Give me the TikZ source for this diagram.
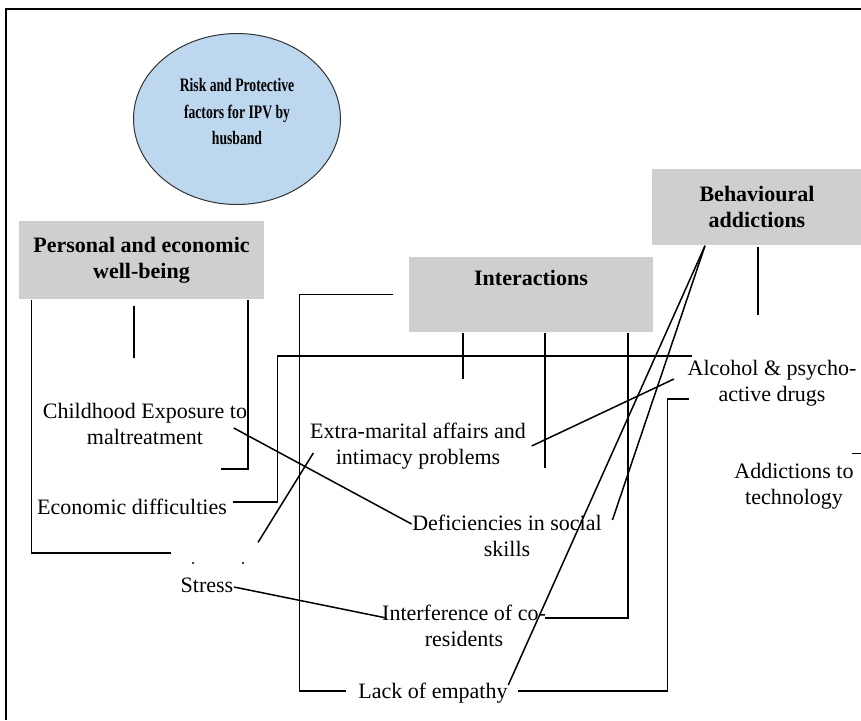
\documentclass[tikz,border=0pt]{standalone}
\usepackage{fontspec}
\setmainfont{Liberation Serif}
\newfontfamily\narrowfont[FakeStretch=0.72]{Liberation Serif}
\usetikzlibrary{shapes.geometric, positioning}
\definecolor{ellblue}{HTML}{BDD7EE}
\definecolor{hdgray}{HTML}{D0CECE}

\begin{document}
\begin{tikzpicture}[
        x=0.5pt, y=-0.5pt,
        line width=0.75pt,
        every node/.style={inner sep=0pt, align=center, font=\fontsize{11}{13}\selectfont},
        header/.style={fill=hdgray, font=\fontsize{11}{13}\selectfont\bfseries},
        title/.style={ellipse, draw=black!80, line width=0.5pt, fill=ellblue,
            font=\narrowfont\fontsize{9.5}{13.25}\selectfont\bfseries},
    ]
    \useasboundingbox (0,0) rectangle (861,720);
    \draw[line width=1pt] (6,720) -- (6,9) -- (861,9);

    \node[title, minimum width=103.5pt, minimum height=85.5pt] (title) at (237,119) {Risk and Protective\\factors for IPV by\\husband\\[-6pt]\mbox{}};

    \node[header, minimum width=122.5pt, minimum height=39pt] (pers) at (141.5,260) {Personal and economic\\well-being};
    \node[header, minimum width=122pt, minimum height=37.5pt] (inter) at (531,294.5) {Interactions\\[4pt]\mbox{}};
    \node[header, minimum width=105pt, minimum height=38pt] (behav) at (757,207) {Behavioural\\addictions};

    \node (child) at (145,424) {Childhood Exposure to\\maltreatment};
    \node (econ) at (132,507) {Economic difficulties};
    \node (stress) at (207,585) {Stress};
    \node (extra) at (418,446) {Extra-marital affairs and\\intimacy problems};
    \node (defic) at (507,536) {Deficiencies in social\\skills};
    \node (interf) at (464,626) {Interference of co-\\residents};
    \node (lack) at (433,693) {Lack of empathy};
    \node (alcohol) at (772,383) {Alcohol \& psycho-\\active drugs};
    \node (techn) at (794,486) {Addictions to\\technology};

    \fill (193,563) circle (0.6pt);
    \fill (243,563) circle (0.6pt);

    \draw ([xshift=-3.75pt, yshift=-3pt]pers.south) -- ++(0,52);
    \draw ([xshift=6.5pt]pers.south west) -- ++(0,253) -- ++(140,0);
    \draw ([xshift=-8.5pt]pers.south east) -- ++(0,169) -- ++(-27,0);

    \draw ([xshift=-7.5pt]inter.west) -- ++(-94,0) -- ++(0,396.5) -- ++(47,0);
    \draw ([shift={(2.5pt,2.5pt)}]econ.east) -- ++(45,0) -- ++(0,-146) -- ++(414,0);
    \draw ([xshift=-34pt]inter.south) -- ++(0,46);
    \draw ([xshift=7pt]inter.south) -- ++(0,135);
    \draw ([xshift=48.5pt]inter.south) -- ++(0,285) -- ++(-83,0);

    \draw ([shift={(0.5pt,-0.5pt)}]behav.south) -- ++(0,68);
    \draw ([shift={(1pt,-8pt)}]alcohol.west) -- ++(-21.5,0) -- ++(0,292) -- ++(-149,0);
    \draw ([shift={(-1pt,4.5pt)}]techn.north east) -- ++(10,0);
    \draw ([xshift=-26pt]behav.south) -- ([shift={(5pt,8pt)}]defic.east);
    \draw ([xshift=-26pt]behav.south) -- ([yshift=4pt]lack.east);

    \draw ([shift={(-7pt,-2pt)}]child.east) -- ([yshift=6pt]defic.west);
    \draw ([xshift=2.5pt]extra.east) -- ([shift={(-6.5pt,2pt)}]alcohol.west);
    \draw ([shift={(2pt,-3.5pt)}]extra.west) -- ([shift={(12pt,17.25pt)}]stress.north east);
    \draw ([yshift=-1pt]stress.east) -- ([shift={(2.5pt,4pt)}]interf.west);
\end{tikzpicture}
\end{document}
